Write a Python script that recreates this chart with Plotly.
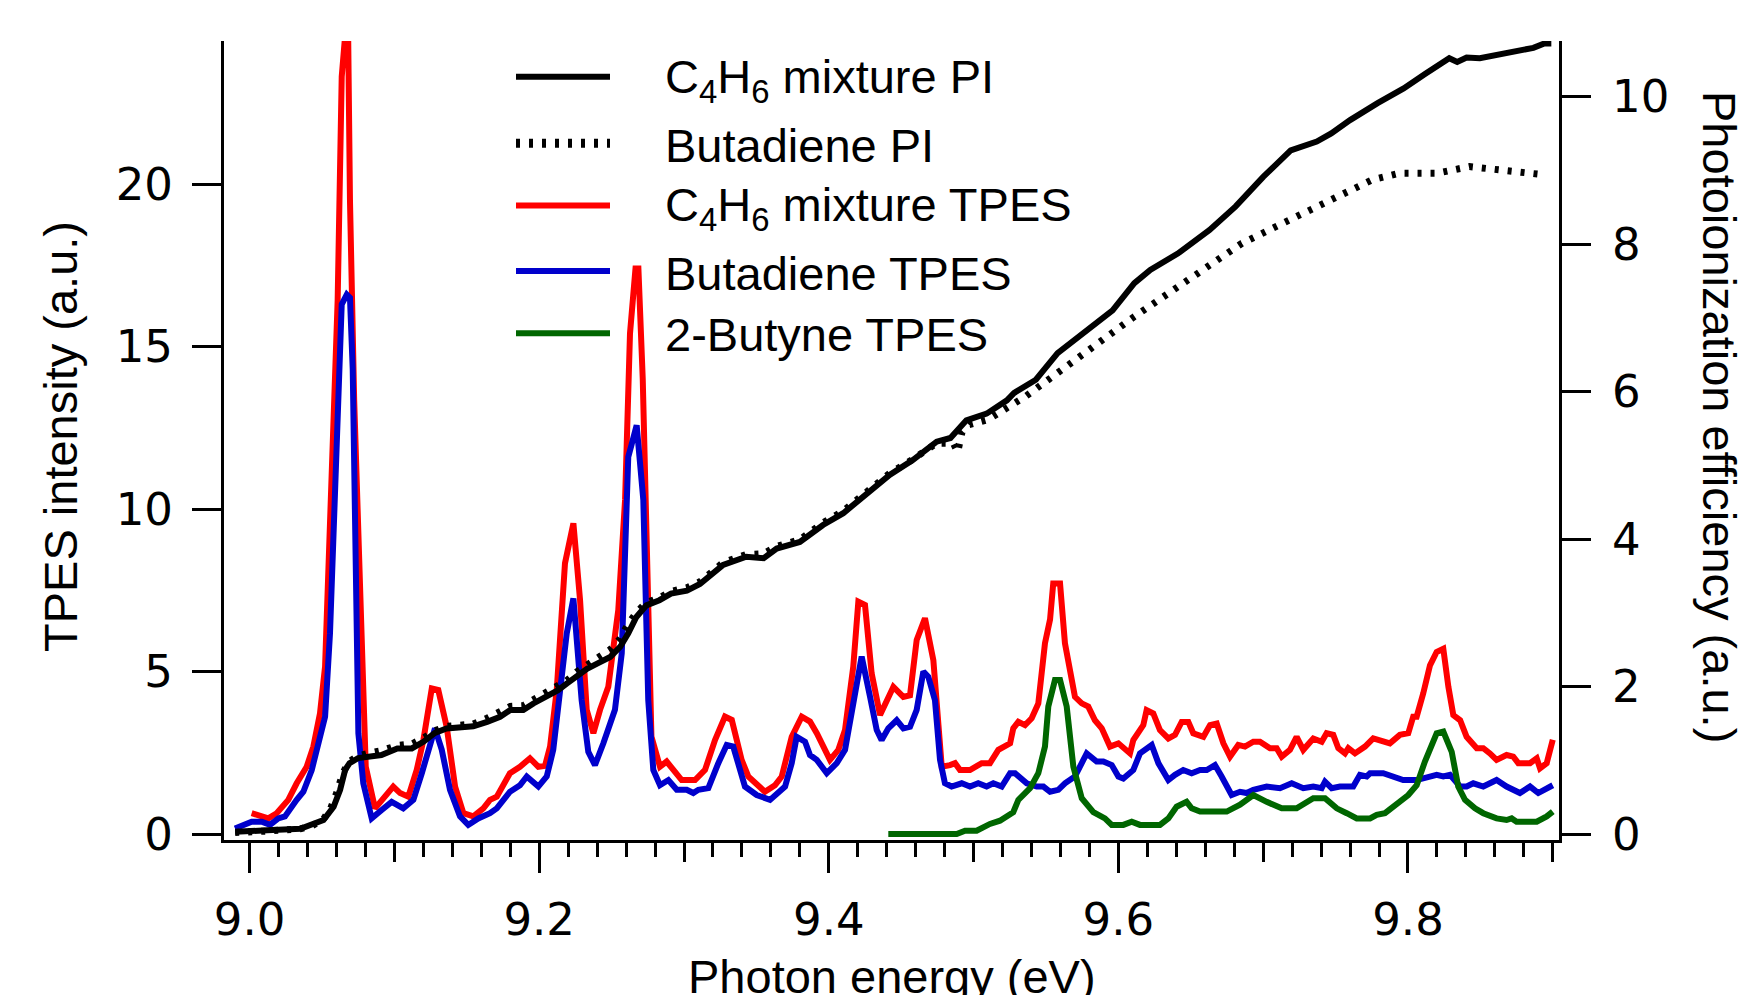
import plotly.graph_objects as go

# ---------------- data ----------------
red_x = [9.0014, 9.0129, 9.0187, 9.0267, 9.0325, 9.0394, 9.044, 9.0486, 9.0521, 9.0544, 9.0578, 9.0608, 9.0636, 9.0664, 9.068, 9.0693, 9.0722, 9.0802, 9.0866, 9.0912, 9.0992, 9.1039, 9.1096, 9.1154, 9.12, 9.1258, 9.1303, 9.1361, 9.1419, 9.1476, 9.1545, 9.1614, 9.166, 9.1707, 9.1798, 9.1867, 9.1936, 9.1994, 9.204, 9.2075, 9.2121, 9.2178, 9.2236, 9.2282, 9.2328, 9.2374, 9.242, 9.2477, 9.2546, 9.2593, 9.2627, 9.2665, 9.2685, 9.2715, 9.2745, 9.2775, 9.2834, 9.288, 9.2984, 9.3076, 9.3145, 9.3214, 9.3283, 9.333, 9.3398, 9.3444, 9.3559, 9.3628, 9.3675, 9.3744, 9.3813, 9.387, 9.3917, 9.4008, 9.4066, 9.4112, 9.4169, 9.4204, 9.425, 9.4296, 9.4354, 9.4446, 9.4515, 9.4561, 9.4607, 9.4664, 9.4722, 9.478, 9.4837, 9.4872, 9.4906, 9.4975, 9.5056, 9.5113, 9.5171, 9.5252, 9.5274, 9.5309, 9.5355, 9.5401, 9.5447, 9.5493, 9.5528, 9.555, 9.5597, 9.5631, 9.57, 9.5747, 9.5792, 9.5838, 9.5885, 9.5942, 9.6, 9.608, 9.6103, 9.6172, 9.6195, 9.6241, 9.6287, 9.6345, 9.6391, 9.6437, 9.6483, 9.6517, 9.6587, 9.6633, 9.6679, 9.6725, 9.6771, 9.6828, 9.6874, 9.6932, 9.6978, 9.7047, 9.7093, 9.7128, 9.7185, 9.7231, 9.7277, 9.7346, 9.7404, 9.7438, 9.7484, 9.7519, 9.7565, 9.7588, 9.7634, 9.7703, 9.776, 9.7829, 9.7875, 9.7944, 9.8002, 9.8036, 9.806, 9.8105, 9.8152, 9.8198, 9.8244, 9.8279, 9.8313, 9.836, 9.8405, 9.8475, 9.852, 9.8566, 9.8612, 9.8681, 9.8727, 9.8762, 9.8843, 9.8889, 9.8912, 9.8958, 9.8985, 9.9]
red_y = [0.64, 0.48, 0.64, 1.05, 1.56, 2.07, 2.69, 3.71, 5.15, 8.23, 13.35, 16.43, 23.3, 24.8, 24.8, 19.5, 13.35, 2.07, 0.79, 1.05, 1.46, 1.26, 1.15, 1.97, 2.89, 4.48, 4.43, 3.3, 1.46, 0.64, 0.54, 0.79, 1.05, 1.15, 1.87, 2.07, 2.33, 2.07, 2.1, 2.69, 4.43, 8.33, 9.56, 7.2, 3.82, 3.1, 3.82, 4.53, 6.89, 10.28, 15.4, 17.4, 17.4, 14.0, 8.0, 3.0, 2.07, 2.23, 1.66, 1.66, 1.97, 2.89, 3.61, 3.51, 2.28, 1.77, 1.3, 1.5, 1.77, 2.99, 3.61, 3.46, 3.1, 2.28, 2.59, 3.2, 5.15, 7.15, 7.05, 4.94, 3.66, 4.53, 4.22, 4.27, 5.97, 6.64, 5.35, 2.07, 2.12, 2.18, 1.97, 1.97, 2.18, 2.18, 2.59, 2.79, 3.25, 3.45, 3.35, 3.56, 4.02, 5.87, 6.6, 7.71, 7.71, 5.87, 4.22, 4.02, 3.92, 3.5, 3.25, 2.69, 2.79, 2.48, 2.89, 3.35, 3.81, 3.71, 3.2, 2.94, 3.05, 3.45, 3.45, 3.1, 2.99, 3.35, 3.4, 2.79, 2.38, 2.74, 2.69, 2.84, 2.84, 2.64, 2.64, 2.38, 2.59, 2.99, 2.59, 2.94, 2.84, 3.1, 3.05, 2.64, 2.48, 2.64, 2.48, 2.69, 2.94, 2.84, 2.79, 3.05, 3.1, 3.61, 3.61, 4.32, 5.19, 5.6, 5.7, 4.53, 3.66, 3.5, 2.99, 2.64, 2.64, 2.48, 2.28, 2.43, 2.38, 2.18, 2.18, 2.33, 2.02, 2.18, 2.69, 2.9]

blue_x = [8.9899, 9.0014, 9.0084, 9.0141, 9.0198, 9.0244, 9.0325, 9.0371, 9.0429, 9.0475, 9.0521, 9.0555, 9.059, 9.0613, 9.0636, 9.0671, 9.0693, 9.0712, 9.0728, 9.0751, 9.0785, 9.0843, 9.0912, 9.0981, 9.1061, 9.1131, 9.1189, 9.1246, 9.128, 9.1327, 9.1384, 9.1453, 9.151, 9.1579, 9.166, 9.1707, 9.1798, 9.1867, 9.1914, 9.1994, 9.2052, 9.2097, 9.2144, 9.219, 9.2236, 9.2293, 9.2339, 9.2385, 9.2443, 9.2523, 9.257, 9.2615, 9.2639, 9.2673, 9.2719, 9.2753, 9.2788, 9.2834, 9.2892, 9.295, 9.3019, 9.3064, 9.3099, 9.3168, 9.3237, 9.3295, 9.334, 9.3421, 9.3502, 9.3594, 9.3698, 9.3744, 9.3778, 9.3836, 9.387, 9.3917, 9.3986, 9.4055, 9.4112, 9.4169, 9.4227, 9.4285, 9.4331, 9.4365, 9.4411, 9.4469, 9.4515, 9.4561, 9.4607, 9.4653, 9.4687, 9.4733, 9.4768, 9.4802, 9.4848, 9.4918, 9.4975, 9.5032, 9.509, 9.5136, 9.5194, 9.5252, 9.5286, 9.5367, 9.5436, 9.5482, 9.5528, 9.5585, 9.5631, 9.57, 9.5781, 9.585, 9.5896, 9.5954, 9.6, 9.6034, 9.6103, 9.6149, 9.6195, 9.623, 9.6276, 9.6345, 9.6391, 9.6448, 9.6506, 9.6564, 9.661, 9.6667, 9.6713, 9.6782, 9.684, 9.6886, 9.6932, 9.7024, 9.7116, 9.7197, 9.7277, 9.7346, 9.7404, 9.7427, 9.7473, 9.753, 9.7622, 9.7668, 9.7715, 9.7738, 9.7829, 9.7898, 9.7967, 9.806, 9.8152, 9.8198, 9.8244, 9.829, 9.836, 9.8405, 9.8451, 9.852, 9.8612, 9.8681, 9.8773, 9.8843, 9.89, 9.898, 9.9]
blue_y = [0.17, 0.38, 0.38, 0.28, 0.48, 0.54, 1.05, 1.3, 1.97, 2.89, 3.61, 6.17, 10.28, 13.35, 16.3, 16.6, 16.5, 14.3, 9.25, 3.1, 1.56, 0.48, 0.74, 0.99, 0.79, 1.05, 1.87, 2.79, 3.25, 2.59, 1.36, 0.54, 0.28, 0.48, 0.64, 0.79, 1.3, 1.5, 1.77, 1.46, 1.77, 2.59, 4.32, 6.17, 7.25, 4.12, 2.53, 2.12, 2.79, 3.82, 5.56, 11.6, 12.0, 12.58, 10.28, 4.12, 1.97, 1.5, 1.66, 1.36, 1.36, 1.26, 1.36, 1.41, 2.18, 2.74, 2.69, 1.46, 1.2, 1.05, 1.46, 2.18, 2.99, 2.84, 2.43, 2.28, 1.87, 2.18, 2.59, 4.12, 5.46, 4.22, 3.2, 2.89, 3.25, 3.5, 3.25, 3.3, 3.82, 5.0, 4.84, 4.12, 2.28, 1.56, 1.46, 1.56, 1.46, 1.56, 1.46, 1.56, 1.46, 1.87, 1.87, 1.56, 1.46, 1.46, 1.3, 1.36, 1.56, 1.77, 2.48, 2.23, 2.23, 2.12, 1.77, 1.71, 1.97, 2.48, 2.64, 2.74, 2.18, 1.66, 1.82, 1.97, 1.87, 1.97, 1.97, 2.12, 1.77, 1.2, 1.3, 1.26, 1.36, 1.46, 1.41, 1.56, 1.41, 1.46, 1.41, 1.61, 1.41, 1.46, 1.46, 1.82, 1.77, 1.87, 1.87, 1.77, 1.66, 1.66, 1.77, 1.82, 1.77, 1.82, 1.46, 1.46, 1.56, 1.46, 1.66, 1.46, 1.26, 1.46, 1.26, 1.46, 1.5]

green_x = [9.4411, 9.4883, 9.4941, 9.5021, 9.5113, 9.5182, 9.5274, 9.5309, 9.539, 9.5447, 9.5493, 9.5516, 9.5562, 9.5597, 9.5643, 9.5689, 9.5747, 9.5827, 9.5907, 9.5954, 9.6034, 9.6092, 9.6149, 9.6287, 9.6345, 9.6402, 9.6471, 9.6506, 9.6564, 9.6748, 9.684, 9.6932, 9.7024, 9.7128, 9.7231, 9.7346, 9.7427, 9.7508, 9.7577, 9.7646, 9.7738, 9.7784, 9.7841, 9.7922, 9.8002, 9.806, 9.8117, 9.8198, 9.8244, 9.8302, 9.8347, 9.8394, 9.8463, 9.852, 9.8612, 9.8681, 9.8716, 9.875, 9.8889, 9.8958, 9.9]
green_y = [0.0, 0.0, 0.1, 0.1, 0.31, 0.41, 0.67, 1.05, 1.41, 1.87, 2.69, 3.92, 4.74, 4.74, 3.92, 2.07, 1.1, 0.67, 0.48, 0.28, 0.28, 0.38, 0.28, 0.28, 0.48, 0.84, 0.99, 0.79, 0.69, 0.69, 0.9, 1.2, 0.99, 0.79, 0.79, 1.1, 1.1, 0.79, 0.64, 0.48, 0.48, 0.59, 0.64, 0.95, 1.2, 1.5, 2.23, 3.1, 3.15, 2.53, 1.46, 1.05, 0.79, 0.64, 0.48, 0.43, 0.48, 0.38, 0.38, 0.54, 0.69]

mixpi_x = [8.990, 9.000, 9.012, 9.035, 9.043, 9.051, 9.058, 9.0625, 9.066, 9.069, 9.075, 9.083, 9.091, 9.102, 9.112, 9.120, 9.128, 9.136, 9.1545, 9.164, 9.173, 9.180, 9.189, 9.196, 9.205, 9.213, 9.219, 9.226, 9.233, 9.240, 9.249, 9.256, 9.2615, 9.267, 9.274, 9.283, 9.291, 9.302, 9.311, 9.327, 9.343, 9.355, 9.364, 9.380, 9.396, 9.410, 9.424, 9.442, 9.458, 9.4745, 9.484, 9.495, 9.509, 9.523, 9.528, 9.543, 9.558, 9.573, 9.596, 9.611, 9.622, 9.641, 9.663, 9.681, 9.700, 9.719, 9.737, 9.747, 9.760, 9.779, 9.797, 9.812, 9.8285, 9.834, 9.8405, 9.8496, 9.8636, 9.8792, 9.8866, 9.8942, 9.899]
mixpi_y = [0.03, 0.03, 0.05, 0.07, 0.12, 0.19, 0.37, 0.60, 0.87, 0.96, 1.03, 1.05, 1.07, 1.16, 1.16, 1.25, 1.37, 1.43, 1.46, 1.52, 1.59, 1.68, 1.68, 1.77, 1.86, 1.95, 2.04, 2.15, 2.24, 2.31, 2.40, 2.54, 2.72, 2.94, 3.10, 3.17, 3.26, 3.30, 3.39, 3.65, 3.76, 3.74, 3.87, 3.96, 4.19, 4.35, 4.57, 4.87, 5.07, 5.32, 5.37, 5.61, 5.70, 5.88, 5.98, 6.16, 6.52, 6.74, 7.10, 7.47, 7.65, 7.87, 8.19, 8.51, 8.91, 9.27, 9.39, 9.50, 9.68, 9.91, 10.11, 10.31, 10.52, 10.47, 10.53, 10.52, 10.58, 10.63, 10.66, 10.72, 10.72]

butpi_x = [8.990, 9.000, 9.012, 9.035, 9.043, 9.051, 9.056, 9.060, 9.064, 9.068, 9.075, 9.083, 9.091, 9.102, 9.112, 9.120, 9.128, 9.136, 9.1545, 9.164, 9.173, 9.180, 9.189, 9.196, 9.205, 9.213, 9.219, 9.226, 9.233, 9.240, 9.249, 9.256, 9.2615, 9.267, 9.274, 9.283, 9.291, 9.302, 9.311, 9.327, 9.343, 9.355, 9.364, 9.380, 9.396, 9.410, 9.424, 9.442, 9.458, 9.4745, 9.486, 9.489, 9.492, 9.497, 9.510, 9.5356, 9.5731, 9.6106, 9.6479, 9.6853, 9.7228, 9.7415, 9.7599, 9.7752, 9.7939, 9.8201, 9.8425, 9.8725, 9.8909, 9.8934]
butpi_y = [0.02, 0.02, 0.04, 0.07, 0.11, 0.20, 0.35, 0.55, 0.80, 0.97, 1.06, 1.10, 1.13, 1.20, 1.22, 1.30, 1.40, 1.46, 1.49, 1.57, 1.65, 1.73, 1.74, 1.82, 1.90, 2.00, 2.08, 2.20, 2.30, 2.38, 2.50, 2.65, 2.85, 3.00, 3.14, 3.20, 3.29, 3.34, 3.42, 3.68, 3.79, 3.80, 3.90, 3.99, 4.22, 4.38, 4.60, 4.89, 5.08, 5.30, 5.30, 5.18, 5.45, 5.55, 5.62, 5.93, 6.47, 7.01, 7.51, 8.01, 8.37, 8.55, 8.71, 8.87, 8.96, 8.96, 9.05, 8.98, 8.96, 8.94]

x_tickvals = [9.0, 9.2, 9.4, 9.6, 9.8]
x_ticktext = ["9.0", "9.2", "9.4", "9.6", "9.8"]
x_midticks = [9.1, 9.3, 9.5, 9.7, 9.9]
yl_tickvals = [0, 5, 10, 15, 20]
yr_tickvals = [0, 2, 4, 6, 8, 10]

names = ["C<sub>4</sub>H<sub>6</sub> mixture PI", "Butadiene PI",
         "C<sub>4</sub>H<sub>6</sub> mixture TPES", "Butadiene TPES", "2-Butyne TPES"]

# ---------------- layout geometry (pixels) ----------------
W, H = 1742, 995
PL, PR, PT, PB = 224, 1559, 41, 840
def px_x(p):
    return (p - PL) / (PR - PL)
def px_y(p):
    return (PB - p) / (PB - PT)

RED = "#FF0000"
BLUE = "#0000CC"
GREEN = "#006600"
BLACK = "#000000"
LW = 6
DOT = "4px,9px"

fig = go.Figure()
fig.add_trace(go.Scatter(x=red_x, y=red_y, mode="lines", line=dict(color=RED, width=LW),
                         name="C4H6 mixture TPES", showlegend=False))
fig.add_trace(go.Scatter(x=blue_x, y=blue_y, mode="lines", line=dict(color=BLUE, width=LW),
                         name="Butadiene TPES", showlegend=False))
fig.add_trace(go.Scatter(x=green_x, y=green_y, mode="lines", line=dict(color=GREEN, width=LW),
                         name="2-Butyne TPES", showlegend=False))
fig.add_trace(go.Scatter(x=butpi_x, y=butpi_y, mode="lines", yaxis="y2",
                         line=dict(color=BLACK, width=7, dash=DOT),
                         name="Butadiene PI", showlegend=False))
fig.add_trace(go.Scatter(x=mixpi_x, y=mixpi_y, mode="lines", yaxis="y2",
                         line=dict(color=BLACK, width=LW),
                         name="C4H6 mixture PI", showlegend=False))
# invisible trace on helper axis carrying the intermediate x ticks
fig.add_trace(go.Scatter(x=[x_midticks[0]], y=[0], xaxis="x2", mode="lines",
                         line=dict(width=0), hoverinfo="skip", showlegend=False))

XR = [8.9823, 9.9043]
TICKFONT = dict(family="DejaVu Sans", size=45, color="black")
TEXTFONT = dict(family="Liberation Sans, Arial, sans-serif", size=47, color="black")

fig.update_layout(
    width=W, height=H, autosize=False,
    margin=dict(l=PL, r=W - PR, t=PT, b=H - PB, pad=0),
    paper_bgcolor="white", plot_bgcolor="white",
    showlegend=False,
    xaxis=dict(range=XR, tickvals=x_tickvals, ticktext=x_ticktext,
               ticks="outside", ticklen=30, tickwidth=3, tickcolor="black",
               minor=dict(dtick=0.02, tick0=9.0, ticks="outside", ticklen=14,
                          tickwidth=3, tickcolor="black", showgrid=False),
               showline=True, linewidth=3, linecolor="black", showgrid=False,
               zeroline=False, tickfont=TICKFONT, ticklabelstandoff=8),
    xaxis2=dict(range=XR, overlaying="x", anchor="y", side="bottom",
                tickvals=x_midticks, ticks="outside", ticklen=21, tickwidth=3,
                tickcolor="black", showticklabels=False, showline=False,
                showgrid=False, zeroline=False),
    yaxis=dict(range=[-0.1846, 24.4], tickvals=yl_tickvals,
               ticks="outside", ticklen=29, tickwidth=3, tickcolor="black",
               showline=True, linewidth=3, linecolor="black", showgrid=False,
               zeroline=False, tickfont=TICKFONT, ticklabelstandoff=10),
    yaxis2=dict(range=[-0.0814, 10.753], tickvals=yr_tickvals, overlaying="y",
                side="right", anchor="x",
                ticks="outside", ticklen=29, tickwidth=3, tickcolor="black",
                showline=True, linewidth=3, linecolor="black", showgrid=False,
                zeroline=False, tickfont=TICKFONT, ticklabelstandoff=12),
)

annotations = []
# axis titles
annotations.append(dict(text="TPES intensity (a.u.)", xref="paper", yref="paper",
                        x=px_x(61), y=px_y(437), textangle=-90, showarrow=False,
                        xanchor="center", yanchor="middle", font=TEXTFONT))
annotations.append(dict(text="Photoionization efficiency (a.u.)", xref="paper", yref="paper",
                        x=px_x(1720), y=px_y(417), textangle=90, showarrow=False,
                        xanchor="center", yanchor="middle", font=TEXTFONT))
annotations.append(dict(text="Photon energy (eV)", xref="paper", yref="paper",
                        x=px_x(892), y=px_y(976), showarrow=False,
                        xanchor="center", yanchor="middle", font=TEXTFONT))

# legend (drawn manually)
row_y = [76.7, 143.3, 205.6, 271.1, 333.3]
text_y = [80, 145.6, 207.8, 273, 334.4]
leg_styles = [dict(color=BLACK, width=6),
              dict(color=BLACK, width=9, dash=DOT),
              dict(color=RED, width=LW),
              dict(color=BLUE, width=LW),
              dict(color=GREEN, width=LW)]
shapes = []
for i, nm in enumerate(names):
    shapes.append(dict(type="line", xref="paper", yref="paper",
                       x0=px_x(516), x1=px_x(610), y0=px_y(row_y[i]), y1=px_y(row_y[i]),
                       line=leg_styles[i]))
    annotations.append(dict(text=nm, xref="paper", yref="paper",
                            x=px_x(663), y=px_y(text_y[i]), showarrow=False,
                            xanchor="left", yanchor="middle",
                            font=dict(family="Liberation Sans, Arial, sans-serif", size=47, color="black")))

fig.update_layout(annotations=annotations, shapes=shapes)

fig.write_html("out.html")
